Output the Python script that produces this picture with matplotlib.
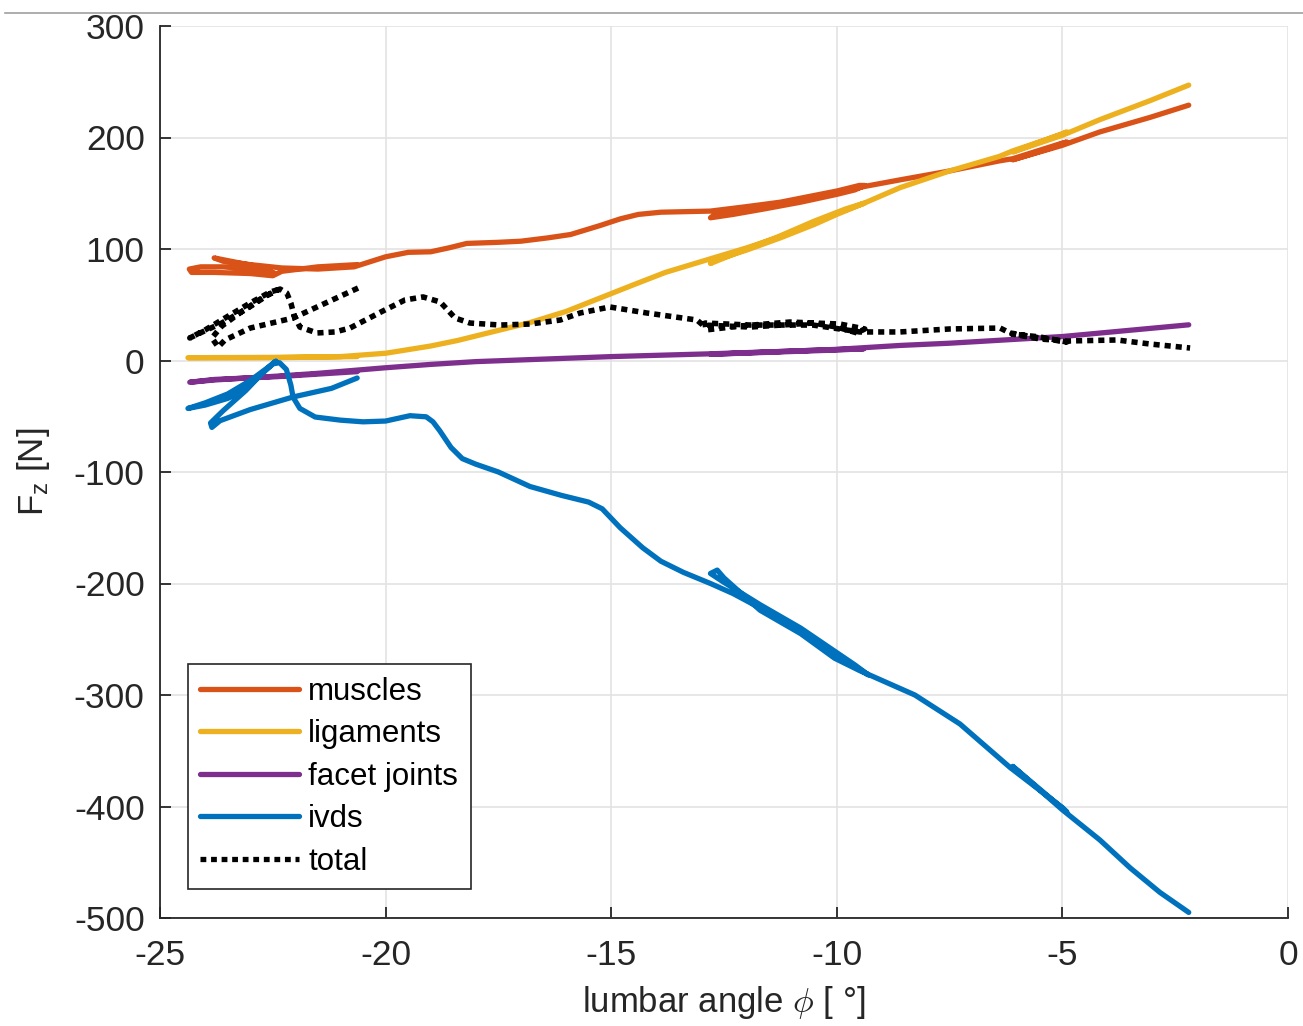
#!/usr/bin/env python3

import matplotlib
matplotlib.use("Agg")
import matplotlib.pyplot as plt
from matplotlib.lines import Line2D

# lumbar angle [deg] and vertical force [N] along each recorded path
muscles_phi = [-20.63, -21.5, -22.3, -22.5, -23.0, -23.8, -24.3, -24.35, -24.1, -23.6,
               -23.3, -22.7, -22.45, -22.8, -23.3, -23.8, -23.6, -23.0, -22.3, -21.5,
               -20.7, -20.0, -19.5, -19.0, -18.6, -18.2, -17.5, -17.0, -16.4, -15.9,
               -15.25, -14.8, -14.4, -13.9, -12.8, -12.0, -11.25, -10.5, -10.0, -9.5,
               -9.38, -9.6, -10.0, -10.8, -11.6, -12.3, -12.8, -12.7, -12.0, -11.25,
               -10.5, -10.0, -9.4, -8.6, -7.5, -6.4, -6.1, -5.0, -4.9, -5.3,
               -6.1, -5.0, -4.17, -3.06, -2.2]
muscles_fz = [86, 84, 80, 76, 78, 79, 79, 82, 84, 84,
              83, 80, 78, 84, 88, 92, 89, 86, 83, 82,
              84, 93, 97, 97.5, 101, 105, 106, 107, 110, 113,
              121, 127, 131, 133, 134, 138, 142, 148, 152, 157,
              157, 153, 149, 142, 136, 131, 128, 131, 136, 140,
              146, 150, 156, 162, 170, 179, 181, 195, 196, 190,
              180, 193, 205, 218, 229]

ligaments_phi = [-20.63, -22.5, -24.38, -22.5, -21.0, -20.0, -19.0, -18.4, -17.5, -16.8,
                 -16.0, -15.25, -14.5, -13.8, -12.9, -12.0, -11.25, -10.5, -10.0,
                 -9.4, -9.8, -10.5, -11.3, -12.0, -12.8, -12.7, -12.0, -11.25, -10.5,
                 -10.0, -9.4, -8.6, -7.5, -6.4, -6.1, -5.0, -4.9, -6.1, -5.0,
                 -4.17, -3.06, -2.2]
ligaments_fz = [3.5, 2.5, 2.5, 2.8, 3.5, 6.5, 13, 18, 27, 34,
                44, 56, 68, 79, 90, 101, 111, 124, 132,
                141, 136, 125, 111, 100, 87, 90, 99, 110, 122,
                131, 141, 155, 170, 183, 188, 203, 205, 187, 202,
                216, 233, 247]

facet_phi = [-20.63, -22.4, -23.8, -24.34, -23.8, -22.4, -21.5, -20.0, -19.0, -18.0,
             -17.0, -15.0, -12.8, -10.0, -9.4, -10.0, -12.8, -10.0, -8.6, -7.5,
             -5.0, -2.2]
facet_fz = [-10, -14.5, -17, -19.5, -17.5, -14, -11.5, -6.5, -3.5, -1,
            0.5, 3.5, 6, 9.8, 10.5, 9.4, 5.6, 10, 13.5, 15.5,
            21.5, 32]

ivds_phi = [-20.63, -21.2, -22.05, -23.0, -23.67, -23.85, -23.88, -23.6, -23.1, -22.7,
            -22.43, -22.6, -23.0, -23.5, -24.0, -24.38, -24.0, -23.5, -23.1, -22.8,
            -22.5, -22.35, -22.2, -22.1, -22.05, -21.9, -21.56, -21.0, -20.5, -20.0,
            -19.46, -19.1, -18.95, -18.8, -18.55, -18.3, -18.0, -17.5, -16.8, -16.1,
            -15.5, -15.2, -14.8, -14.3, -13.9, -13.4, -12.8, -12.3, -11.7, -10.8,
            -10.0, -9.3, -9.6, -10.0, -10.8, -11.7, -12.5, -12.8, -12.65, -12.5,
            -11.7, -10.8, -10.05, -9.5, -8.27, -7.27, -6.16, -5.0, -4.9, -6.1,
            -5.0, -4.17, -3.5, -2.84, -2.2]
ivds_fz = [-15.7, -25, -32.7, -44, -54, -60, -56, -45, -27, -10,
           -0.5, -6, -18, -30, -38, -43, -40, -34, -26, -14,
           -3, -2, -8, -22, -33, -43, -50.7, -53.5, -55, -54.3,
           -49.5, -50.5, -55, -63, -78, -88, -93, -100, -113, -121,
           -127, -133, -150, -168, -180, -190, -200, -209, -222, -242,
           -264, -282, -273, -262, -240, -219, -199, -191, -188, -195,
           -224, -245, -267, -278, -300, -326, -365, -401, -405, -364,
           -403, -430, -455, -477, -495]

total_phi = [-20.61, -21.52, -22.05, -23.0, -23.56, -23.71, -23.85, -23.63, -23.23, -22.74,
             -22.41, -22.56, -23.0, -23.56, -24.0, -24.34, -24.11, -23.63, -23.05, -22.61,
             -22.34, -22.19, -22.10, -22.03, -21.9, -21.52, -21.12, -20.79, -20.06, -19.57,
             -19.17, -18.79, -18.46, -18.13, -17.46, -16.80, -16.13, -15.69, -15.03, -14.21,
             -13.10, -12.97, -11.92, -10.53, -10.0, -9.55, -9.38, -9.93, -11.04, -12.15,
             -12.9, -12.92, -11.92, -10.53, -9.49, -8.6, -7.49, -6.38, -6.16, -5.5,
             -4.9, -5.5, -6.12, -5.5, -4.9, -3.79, -3.06, -2.17]
total_fz = [65.0, 48.0, 38.1, 29.1, 18.4, 12.1, 20.2, 30.9, 42.6, 56.1,
            63.2, 61.4, 51.6, 38.1, 27.4, 20.2, 24.7, 33.6, 47.1, 58.7,
            64.1, 60.5, 51.6, 40.8, 30.0, 24.7, 25.6, 29.1, 44.4, 54.3,
            57.0, 52.5, 38.1, 33.6, 31.8, 32.7, 36.3, 42.6, 48.0, 42.6,
            36.3, 31.8, 30.0, 33.6, 30.0, 24.7, 28.3, 32.7, 34.5, 30.9,
            27.4, 33.6, 31.8, 31.8, 25.6, 25.6, 28.3, 29.1, 24.7, 20.2,
            16.6, 21.1, 23.8, 19.3, 17.5, 18.4, 14.8, 11.2]

x_ticks = [-25, -20, -15, -10, -5, 0]
y_ticks = [-500, -400, -300, -200, -100, 0, 100, 200, 300]

plt.rcParams["font.family"] = ["Liberation Sans", "DejaVu Sans"]
plt.rcParams["axes.unicode_minus"] = False
plt.rcParams["mathtext.fontset"] = "custom"
plt.rcParams["mathtext.rm"] = "Liberation Sans"
plt.rcParams["mathtext.it"] = "Liberation Sans:italic"

fig = plt.figure(figsize=(13.03, 10.26), dpi=100)
ax = fig.add_axes([160 / 1303, 108 / 1026, 1128 / 1303, 892 / 1026])

lw = 3.8
style = dict(lw=lw, solid_capstyle="round", solid_joinstyle="round")
ax.plot(muscles_phi, muscles_fz, color="#D95319", label="muscles", **style)
ax.plot(ligaments_phi, ligaments_fz, color="#EDB120", label="ligaments", **style)
ax.plot(facet_phi, facet_fz, color="#7E2F8E", label="facet joints", **style)
ax.plot(ivds_phi, ivds_fz, color="#0072BD", label="ivds", **style)
ax.plot(total_phi, total_fz, color="black", lw=4.0, linestyle=(0, (1.1, 0.9)),
        dash_capstyle="butt", label="total")

ax.set_xlim(-25, 0)
ax.set_ylim(-500, 300)
ax.set_xticks(x_ticks)
ax.set_yticks(y_ticks)
ax.grid(True, color="#e3e3e3", lw=1.2)
ax.set_axisbelow(True)

for side in ["top", "right"]:
    ax.spines[side].set_visible(False)
for side in ["left", "bottom"]:
    ax.spines[side].set_color("#262626")
    ax.spines[side].set_linewidth(1.3)

ax.tick_params(axis="both", direction="in", length=8, width=1.3, color="#262626",
               labelsize=25.5, labelcolor="#262626")
ax.tick_params(axis="x", pad=15)
ax.tick_params(axis="y", pad=11)

ax.set_xlabel(r"lumbar angle $\phi$ [ °]", fontsize=25, color="#262626",
              labelpad=9, math_fontfamily="cm")
ax.set_ylabel(r"F$_{\rm z}$ [N]", fontsize=25, color="#262626", labelpad=16)

leg = ax.legend(loc="lower left", bbox_to_anchor=(0.0248, 0.0325), borderaxespad=0,
                fontsize=22.5, frameon=True, fancybox=False, framealpha=1,
                edgecolor="#262626", handlelength=3.15, handletextpad=0.3,
                labelspacing=0.4, borderpad=0.4)
leg.get_frame().set_linewidth(1.2)
for line in leg.get_lines():
    line.set_linewidth(3.8)

# thin rule along the top of the figure
fig.add_artist(Line2D([5 / 1303, 1.0], [1 - 13 / 1026, 1 - 13 / 1026],
                      color="#a0a0a0", lw=1.2, transform=fig.transFigure))

fig.savefig("out.png", dpi=100)
